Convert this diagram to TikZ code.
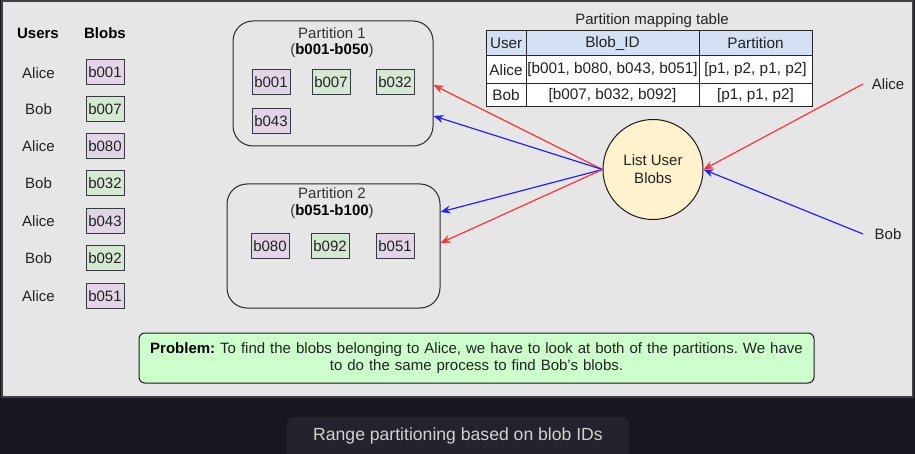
\documentclass[tikz,border=0pt]{standalone}
\usepackage{fontspec}
\setmainfont{Liberation Sans}
\usetikzlibrary{arrows.meta,calc}
\frenchspacing
\definecolor{panel}{HTML}{E6E6E6}
\definecolor{darkbg}{HTML}{16171F}
\definecolor{capbg}{HTML}{22232C}
\definecolor{captxt}{HTML}{D2D2D2}
\definecolor{purp}{HTML}{E1D5E7}
\definecolor{grn}{HTML}{D5E8D4}
\definecolor{bstroke}{HTML}{36393D}
\definecolor{hdr}{HTML}{D4E1F5}
\definecolor{circ}{HTML}{FFF2CC}
\definecolor{probfill}{HTML}{CCFFCC}
\definecolor{txt}{HTML}{222222}
\definecolor{redl}{HTML}{FF3333}
\definecolor{bluel}{HTML}{2222FF}
\tikzset{
  lbl/.style={font=\fontsize{15}{17}\selectfont, text=txt, inner sep=0pt},
  hlbl/.style={font=\fontsize{15}{17}\selectfont\bfseries, text=black, inner sep=0pt},
  blob/.style={rectangle, draw=bstroke, line width=1pt, minimum width=38pt, minimum height=25pt, inner sep=0pt, font=\fontsize{15}{17}\selectfont, text=txt},
  ablob/.style={blob, fill=purp},
  bblob/.style={blob, fill=grn},
  partbox/.style={rectangle, draw=black!85, line width=1pt, rounded corners=20pt, inner sep=0pt},
  cell/.style={rectangle, draw=black!85, line width=1pt, fill=white, inner sep=0pt, font=\fontsize{15.3}{17}\selectfont, text=txt},
  hcell/.style={cell, fill=hdr},
  redarrow/.style={draw=redl, line width=1.2pt, -{Stealth[length=10pt,width=8pt]}},
  bluearrow/.style={draw=bluel, line width=1.2pt, -{Stealth[length=10pt,width=8pt]}},
}
\begin{document}
\begin{tikzpicture}[x=1pt,y=-1pt]
\useasboundingbox (0,0) rectangle (915,454);
\begin{scope}
\clip (0,0) rectangle (915,454);
\fill[darkbg] (0,0) rectangle (915,454);
\fill[capbg, rounded corners=6pt] (287,417) rectangle (629,470);
\end{scope}
\node[font=\fontsize{17.6}{20}\selectfont, text=captxt] (cap) at (458,436) {Range partitioning based on blob IDs};
% panel
\draw[fill=panel, draw=black!75, line width=2pt] (2,1) rectangle (913,396.5);

% users/blobs column
\node[hlbl] (hu) at (38,33) {Users};
\node[hlbl] (hb) at (105,33) {Blobs};
\node[lbl] (u1) at (38.5,73) {Alice};
\node[lbl] (u2) at (38.5,109) {Bob};
\node[lbl] (u3) at (38.5,146) {Alice};
\node[lbl] (u4) at (38.5,183) {Bob};
\node[lbl] (u5) at (38.5,221) {Alice};
\node[lbl] (u6) at (38.5,258) {Bob};
\node[lbl] (u7) at (38.5,296) {Alice};
\node[ablob] (l1) at (105,72.5) {b001};
\node[bblob] (l2) at (105,109) {b007};
\node[ablob] (l3) at (105,146) {b080};
\node[bblob] (l4) at (105,183.5) {b032};
\node[ablob] (l5) at (105,221) {b043};
\node[bblob] (l6) at (105,258.5) {b092};
\node[ablob] (l7) at (105,296) {b051};

% partition 1
\node[partbox, minimum width=200pt, minimum height=125pt] (p1) at (333,83.5) {};
\node[lbl, text=black!80] (p1t) at (332,33.5) {Partition 1};
\node[lbl, text=black!80] (p1s) at (332,51) {(\textbf{\color{black}b001-b050})};
\node[ablob] (q1) at (271,82.5) {b001};
\node[bblob] (q2) at (331,82) {b007};
\node[bblob] (q3) at (395,82) {b032};
\node[ablob] (q4) at (271,121) {b043};

% partition 2
\node[partbox, minimum width=213pt, minimum height=124pt] (p2) at (333.5,246) {};
\node[lbl, text=black!80] (p2t) at (332,193.5) {Partition 2};
\node[lbl, text=black!80] (p2s) at (332,212) {(\textbf{\color{black}b051-b100})};
\node[ablob] (r1) at (270,246) {b080};
\node[bblob] (r2) at (330,246) {b092};
\node[ablob] (r3) at (395,246) {b051};

% table
\node[lbl] (tt) at (652,21) {Partition mapping table};
\node[hcell, minimum width=40pt, minimum height=25pt] (h1) at (506,43.5) {};
\node[cell, fill=none, draw=none, anchor=west] (h1t) at (489.5,43.5) {User};
\node[hcell, minimum width=173pt, minimum height=25pt] (h2) at (612.5,43.5) {Blob\_ID};
\node[hcell, minimum width=113pt, minimum height=25pt] (h3) at (755.5,43.5) {Partition};
\node[cell, minimum width=40pt, minimum height=28pt] (a1) at (506,70) {Alice};
\node[cell, minimum width=173pt, minimum height=28pt] (a2) at (612.5,70) {[b001, b080, b043, b051]};
\node[cell, minimum width=113pt, minimum height=28pt] (a3) at (755.5,70) {[p1, p2, p1, p2]};
\node[cell, minimum width=40pt, minimum height=23pt] (b1) at (506,95.5) {Bob};
\node[cell, minimum width=173pt, minimum height=23pt] (b2) at (612.5,95.5) {[b007, b032, b092]};
\node[cell, minimum width=113pt, minimum height=23pt] (b3) at (755.5,95.5) {[p1, p1, p2]};

% circle
\node[circle, draw=black!90, line width=1pt, fill=circ, minimum size=100pt, inner sep=0pt, align=center, font=\fontsize{15}{18}\selectfont, text=txt] (lub) at (653,169.5) {List User\\Blobs};

% users on right
\node[lbl] (ra) at (888,84) {Alice};
\node[lbl] (rb) at (888,234) {Bob};
\coordinate (raS) at (863,84);
\coordinate (rbS) at (863,234);
\draw[redarrow] (raS) -- (lub.east);
\draw[bluearrow] (rbS) -- (lub.east);

% arrows to partitions
\draw[redarrow] (lub.west) -- ([yshift=-1.5pt]p1.east);
\draw[bluearrow] (lub.west) -- ([yshift=-32.5pt]p1.east);
\draw[bluearrow] (lub.west) -- ([yshift=34pt]p2.east);
\draw[redarrow] (lub.west) -- ([yshift=3pt]p2.east);

% problem box
\node[rectangle, draw=black!90, line width=1pt, fill=probfill, rounded corners=6pt, minimum width=675pt, minimum height=50pt, text width=672pt, align=center, font=\fontsize{15}{17.5}\selectfont, text=txt, inner sep=0pt] (prob) at (476.5,358) {\textbf{\color{black}Problem:} To find the blobs belonging to Alice, we have to look at both of the partitions. We have\\to do the same process to find Bob's blobs.};
\end{tikzpicture}
\end{document}
